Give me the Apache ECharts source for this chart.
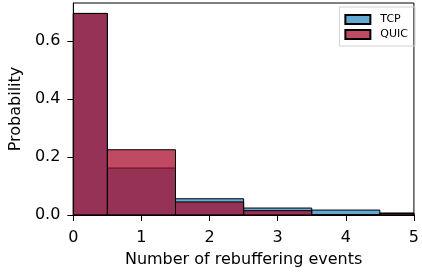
<!DOCTYPE html>
<html>
<head>
<meta charset="utf-8">
<script src="https://cdn.jsdelivr.net/npm/echarts@6/dist/echarts.min.js"></script>
<style>
  html, body { margin: 0; padding: 0; background: #fff; }
  #chart { width: 422px; height: 274px; }
</style>
</head>
<body>
<div id="chart"></div>
<script>
// 直方图数据（每个 bin 的中心为整数）
var bins = [0, 1, 2, 3, 4, 5];
var tcpProb = [0.695, 0.162, 0.056, 0.024, 0.017, 0.007];
var quicProb = [0.695, 0.225, 0.045, 0.015, 0.001, 0.005];
var seriesNames = ['TCP', 'QUIC'];
var xTicks = [0, 1, 2, 3, 4, 5];

var myChart = echarts.init(document.getElementById('chart'));

function histItem(values) {
  return function (params, api) {
    var i = params.dataIndex;
    var x = bins[i];
    var p1 = api.coord([x - 0.5, values[i]]);
    var p2 = api.coord([x + 0.5, 0]);
    var rect = echarts.graphic.clipRectByRect({
      x: p1[0], y: p1[1], width: p2[0] - p1[0], height: p2[1] - p1[1]
    }, {
      x: params.coordSys.x, y: params.coordSys.y,
      width: params.coordSys.width, height: params.coordSys.height
    });
    return rect && {
      type: 'rect',
      shape: rect,
      style: api.style()
    };
  };
}

var option = {
  animation: false,
  textStyle: { fontFamily: 'DejaVu Sans' },
  grid: {
    left: 73, top: 3, right: 3, bottom: 59,
    show: true, borderColor: '#000', borderWidth: 1
  },
  legend: {
    data: seriesNames,
    orient: 'vertical',
    right: 7, top: 7,
    icon: 'rect',
    itemWidth: 25, itemHeight: 9,
    itemGap: 4,
    padding: [7, 7, 6, 5],
    borderColor: '#d0d0d0', borderWidth: 1,
    textStyle: { fontSize: 11, color: '#000', fontFamily: 'DejaVu Sans', padding: [0, 0, 0, 5] }
  },
  xAxis: {
    type: 'value',
    min: 0, max: 5, interval: 1,
    name: 'Number of rebuffering events',
    nameLocation: 'middle', nameGap: 37,
    nameTextStyle: { fontSize: 16, color: '#000' },
    axisLine: { show: true, lineStyle: { color: '#000' } },
    axisTick: { show: true, length: 6, lineStyle: { color: '#000' } },
    axisLabel: {
      fontSize: 16, color: '#000', margin: 15,
      formatter: function (v) { return xTicks.indexOf(v) >= 0 ? String(v) : ''; }
    },
    splitLine: { show: false }
  },
  yAxis: {
    type: 'value',
    min: 0, max: 0.731, interval: 0.2,
    name: 'Probability',
    nameLocation: 'middle', nameGap: 43,
    nameTextStyle: { fontSize: 16, color: '#000' },
    axisLine: { show: true, lineStyle: { color: '#000' } },
    axisTick: { show: true, length: 6, lineStyle: { color: '#000' } },
    axisLabel: {
      fontSize: 16, color: '#000', margin: 13, showMaxLabel: false,
      formatter: function (v) { return v.toFixed(1); }
    },
    splitLine: { show: false }
  },
  series: [
    {
      name: 'TCP',
      type: 'custom',
      renderItem: histItem(tcpProb),
      itemStyle: { color: '#64a8d4', borderColor: '#000', borderWidth: 1 },
      encode: { x: 0, y: 1 },
      data: bins.map(function (b, i) { return [b, tcpProb[i]]; }),
      z: 2
    },
    {
      name: 'QUIC',
      type: 'custom',
      renderItem: histItem(quicProb),
      itemStyle: { color: 'rgba(168,4,36,0.72)', borderColor: '#000', borderWidth: 1 },
      encode: { x: 0, y: 1 },
      data: bins.map(function (b, i) { return [b, quicProb[i]]; }),
      z: 3
    }
  ]
};

option && myChart.setOption(option);
</script>
</body>
</html>
